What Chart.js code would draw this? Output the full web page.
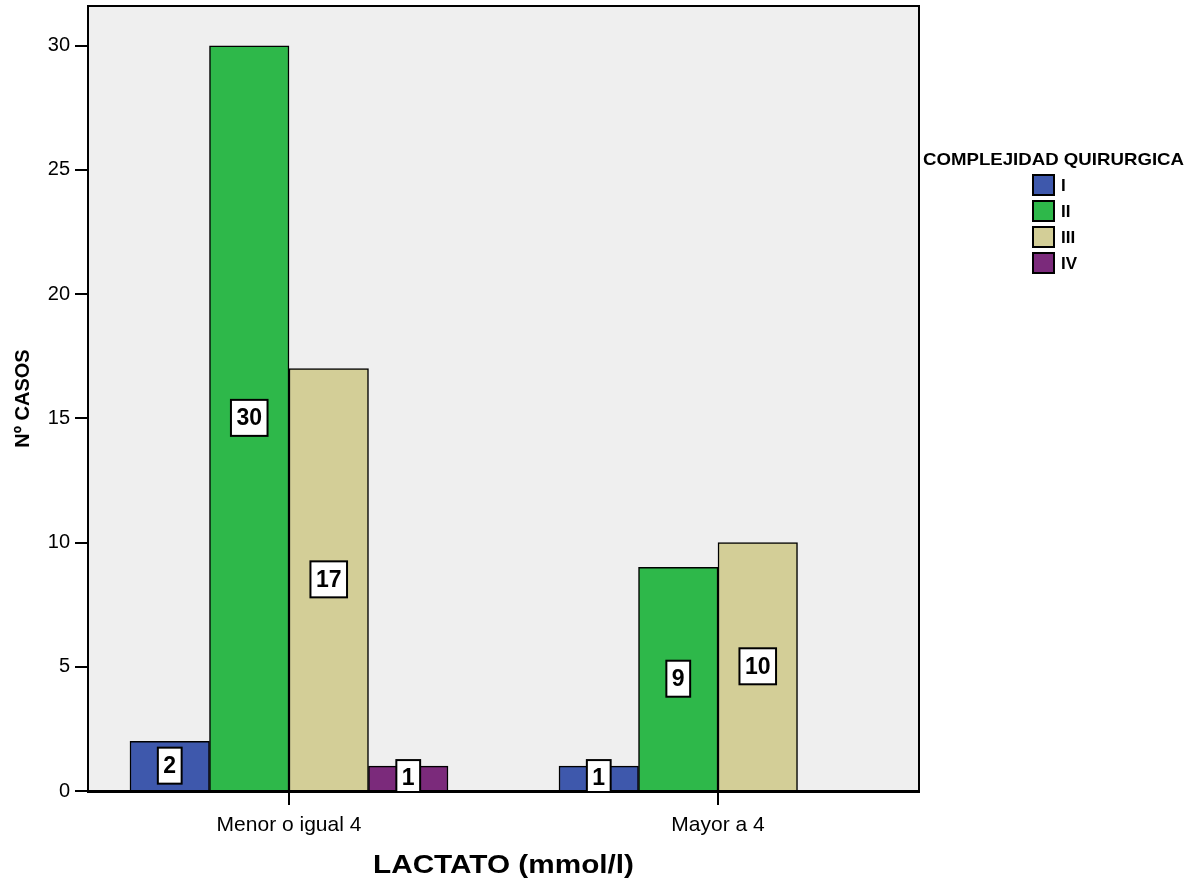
<!DOCTYPE html>
<html>
<head>
<meta charset="utf-8">
<script src="https://cdn.jsdelivr.net/npm/chart.js@4.4.1/dist/chart.umd.min.js"></script>
<style>
  html, body { margin: 0; padding: 0; background: #ffffff; }
  #wrap { width: 1200px; height: 888px; position: relative; }
</style>
</head>
<body>
<div id="wrap"><canvas id="chart" width="1200" height="888"></canvas></div>
<script>
// Lactate groups on the x axis
const categories = ['Menor o igual 4', 'Mayor a 4'];
// Number of cases per surgical complexity level
const seriesNames = ['I', 'II', 'III', 'IV'];
const valuesI   = [2, 1];
const valuesII  = [30, 9];
const valuesIII = [17, 10];
const valuesIV  = [1, null];
const yTicks = [0, 5, 10, 15, 20, 25, 30];

const seriesValues = [valuesI, valuesII, valuesIII, valuesIV];
const seriesColors = ['#3E58AC', '#2EB84A', '#D3CE97', '#7B2A7B'];
const FONT = '"Liberation Sans", Arial, Helvetica, sans-serif';
const X_TITLE = 'LACTATO (mmol/l)';

const datasets = seriesNames.map((name, i) => ({
  label: name,
  data: seriesValues[i].map((v, j) => ({ x: j, y: v })),
  backgroundColor: seriesColors[i],
  borderColor: '#000000',
  borderWidth: 1.5,
  borderSkipped: 'bottom',
  barThickness: 79.5,
  grouped: true
}));

// Draw text stretched horizontally to a given width
function fitText(ctx, text, x, y, width) {
  const w = ctx.measureText(text).width;
  ctx.save();
  ctx.translate(x, y);
  ctx.scale(width / w, 1);
  ctx.fillText(text, 0, 0);
  ctx.restore();
}

// Plot background and the top/right frame lines
const frame = {
  id: 'frame',
  beforeDraw(chart) {
    const { ctx, chartArea: a } = chart;
    ctx.save();
    ctx.fillStyle = '#EFEFEF';
    ctx.fillRect(a.left, a.top, a.right - a.left, a.bottom - a.top);
    ctx.restore();
  },
  afterDraw(chart) {
    const { ctx, chartArea: a } = chart;
    ctx.save();
    ctx.strokeStyle = '#000000';
    ctx.lineWidth = 2;
    ctx.beginPath();
    ctx.moveTo(a.left, a.top);
    ctx.lineTo(a.right, a.top);
    ctx.lineTo(a.right, a.bottom);
    ctx.stroke();
    // x axis title, centred under the plot
    ctx.fillStyle = '#000000';
    ctx.font = 'bold 26px ' + FONT;
    ctx.textAlign = 'left';
    ctx.textBaseline = 'alphabetic';
    const tw = 261;
    fitText(ctx, X_TITLE, (a.left + a.right) / 2 - tw / 2, 873, tw);
    ctx.restore();
  }
};

// Value boxes centred in each bar
const valueBoxes = {
  id: 'valueBoxes',
  afterDatasetsDraw(chart) {
    const { ctx, chartArea: a } = chart;
    ctx.save();
    ctx.beginPath();
    ctx.rect(a.left, a.top, a.right - a.left, a.bottom - a.top);
    ctx.clip();
    ctx.font = 'bold 23px ' + FONT;
    ctx.textAlign = 'center';
    ctx.textBaseline = 'middle';
    chart.data.datasets.forEach((ds, di) => {
      const meta = chart.getDatasetMeta(di);
      meta.data.forEach((bar, i) => {
        const v = ds.data[i].y;
        if (v === null || v === undefined) return;
        const cx = bar.x;
        const cy = (bar.y + bar.base) / 2;
        const txt = String(v);
        const w = ctx.measureText(txt).width + 11;
        const h = 36;
        ctx.fillStyle = '#ffffff';
        ctx.fillRect(cx - w / 2, cy - h / 2, w, h);
        ctx.strokeStyle = '#000000';
        ctx.lineWidth = 2;
        ctx.strokeRect(cx - w / 2, cy - h / 2, w, h);
        ctx.fillStyle = '#000000';
        ctx.fillText(txt, cx, cy + 1);
      });
    });
    ctx.restore();
  }
};

// Legend block on the right
const sideLegend = {
  id: 'sideLegend',
  afterDraw(chart) {
    const { ctx } = chart;
    ctx.save();
    ctx.fillStyle = '#000000';
    ctx.textBaseline = 'middle';
    ctx.textAlign = 'left';
    ctx.font = 'bold 17px ' + FONT;
    fitText(ctx, 'COMPLEJIDAD QUIRURGICA', 923, 160, 261);
    seriesNames.forEach((name, i) => {
      const cy = 185 + i * 26;
      ctx.fillStyle = seriesColors[i];
      ctx.fillRect(1033, cy - 10, 21, 20);
      ctx.strokeStyle = '#000000';
      ctx.lineWidth = 2;
      ctx.strokeRect(1033, cy - 10, 21, 20);
      ctx.fillStyle = '#000000';
      ctx.font = 'bold 17px ' + FONT;
      ctx.fillText(name, 1061, cy + 1);
    });
    ctx.restore();
  }
};

new Chart(document.getElementById('chart'), {
  type: 'bar',
  data: { datasets },
  options: {
    responsive: false,
    animation: false,
    devicePixelRatio: 1,
    layout: { padding: { left: 0, top: 6, right: 281, bottom: 0 } },
    plugins: {
      legend: { display: false },
      tooltip: { enabled: false },
      title: { display: false }
    },
    scales: {
      x: {
        type: 'linear',
        min: -0.4685,
        max: 1.4685,
        offset: false,
        afterBuildTicks(scale) {
          scale.ticks = categories.map((c, i) => ({ value: i }));
        },
        afterFit(scale) {
          scale.height = 97;
          scale.paddingLeft = 0;
          scale.paddingRight = 0;
        },
        grid: {
          offset: false,
          drawOnChartArea: false,
          drawTicks: true,
          tickLength: 14,
          color: '#000000',
          lineWidth: 2
        },
        border: { display: true, color: '#000000', width: 3 },
        ticks: {
          autoSkip: false,
          maxRotation: 0,
          padding: 8,
          color: '#000000',
          font: { family: FONT, size: 21 },
          callback: (v) => categories[v]
        },
        title: { display: false }
      },
      y: {
        min: 0,
        max: 31.6,
        afterBuildTicks(scale) {
          scale.ticks = yTicks.map(v => ({ value: v }));
        },
        afterFit(scale) {
          scale.width = 88;
          scale.paddingTop = 0;
          scale.paddingBottom = 0;
        },
        grid: {
          drawOnChartArea: false,
          drawTicks: true,
          tickLength: 13,
          color: '#000000',
          lineWidth: 2
        },
        border: { display: true, color: '#000000', width: 2 },
        ticks: {
          includeBounds: false,
          padding: 5,
          color: '#000000',
          font: { family: FONT, size: 20 }
        },
        title: {
          display: true,
          text: 'Nº CASOS',
          color: '#000000',
          font: { family: FONT, size: 20, weight: 'bold' },
          padding: { top: 11.5, bottom: 0 }
        }
      }
    }
  },
  plugins: [frame, valueBoxes, sideLegend]
});
</script>
</body>
</html>
